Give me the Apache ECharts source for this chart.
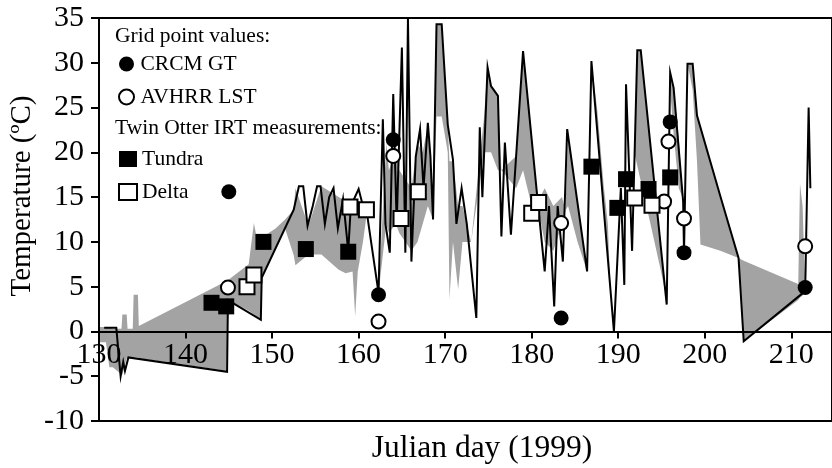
<!DOCTYPE html>
<html>
<head>
<meta charset="utf-8">
<script src="https://cdn.jsdelivr.net/npm/echarts@6/dist/echarts.min.js"></script>
<style>
  html, body { margin: 0; padding: 0; background: #fff; }
  #chart { width: 832px; height: 468px; }
</style>
</head>
<body>
<div id="chart"></div>
<script>
// Daily surface temperature trace (black line)
const lineDays = [130.6,132.0,132.5,132.8,133.0,133.4,144.8,144.9,148.7,148.8,152.5,153.1,153.6,154.1,154.7,155.2,155.6,156.1,156.6,157.1,157.6,158.2,158.8,159.1,160.0,160.5,160.9,162.3,162.8,163.1,163.6,164.0,164.4,165.0,165.4,165.7,166.1,166.6,167.1,167.5,168.0,168.3,168.6,169.0,169.6,170.3,170.9,171.3,171.9,172.5,173.6,174.0,174.3,174.9,175.3,176.1,176.5,176.9,177.6,179.0,180.7,181.5,182.0,182.6,183.0,183.6,184.1,186.4,186.9,189.5,190.3,190.7,190.9,191.6,192.2,192.6,195.6,196.0,196.4,197.5,197.6,198.0,198.6,199.1,201.8,203.9,204.5,211.6,212.0,212.2];
const lineTemps = [0.4,0.4,-5.0,-3.4,-4.4,-2.9,-4.5,3.5,1.3,6.0,13.6,16.2,16.2,11.8,14.0,16.2,16.2,12.0,15.0,16.0,11.5,14.8,9.0,14.0,15.9,14.0,13.6,4.3,23.7,12.0,8.8,26.5,12.0,31.7,8.8,35.0,7.8,19.5,22.6,16.0,23.3,19.5,12.5,34.3,34.3,23.1,19.2,12.0,16.0,12.0,1.5,22.8,15.0,29.5,27.4,26.3,10.6,21.1,10.8,31.3,14.5,6.7,14.0,2.8,14.0,7.8,22.6,6.7,30.2,0.0,16.0,5.2,27.6,9.0,31.4,31.4,3.0,28.9,27.2,14.5,8.8,29.9,29.9,24.1,15.1,8.2,-1.1,4.5,25.0,16.0];

// Shaded range: lower and upper edge per day
const bandDays = [130.0,130.8,131.2,131.6,132.6,132.7,133.2,133.3,133.9,134.0,134.5,134.6,144.7,145.0,147.3,147.9,148.4,148.7,148.8,150.4,151.5,152.5,152.7,154.2,155.7,157.7,158.5,159.3,159.6,159.9,160.5,161.0,162.3,163.2,163.5,164.3,164.7,166.1,166.8,167.4,168.0,168.6,169.0,169.6,170.3,170.5,170.9,171.5,172.0,173.0,174.5,174.9,175.3,176.1,176.5,178.2,179.0,180.0,180.7,181.5,182.5,183.5,183.9,184.2,185.3,186.3,186.9,187.6,188.3,188.8,189.1,191.85,192.2,192.6,193.7,194.9,195.5,196.0,196.4,197.0,197.4,197.5,198.0,198.6,199.1,199.5,201.8,203.9,204.5,210.8,211.0,211.3,211.6,212.2];
const bandLow  = [-1.2,-1.2,-4.0,-4.0,-4.8,-4.8,-3.0,-3.0,-2.9,-2.9,-2.9,-3.0,-4.4,3.5,2.3,1.9,1.5,1.3,6.0,9.3,11.5,8.5,7.4,8.6,8.6,6.9,6.5,6.7,1.7,6.7,10.0,13.6,4.3,12.0,11.0,12.0,11.0,9.0,10.0,12.0,14.0,12.5,24.0,24.0,20.0,3.6,10.0,4.7,10.0,10.0,20.0,20.0,20.0,18.0,18.0,16.0,18.0,14.0,14.0,10.0,9.0,12.0,13.5,14.0,10.0,7.0,30.2,22.1,14.0,8.1,4.6,20.0,18.5,16.8,12.1,6.9,4.0,27.0,22.0,16.0,15.0,14.5,29.9,27.0,19.0,9.7,9.0,8.2,-1.1,3.5,3.8,4.0,4.5,16.0];
const bandHigh = [0.5,0.5,0.5,0.3,0.3,1.9,1.9,0.3,0.3,4.1,4.1,0.6,5.6,5.8,7.5,12.1,9.5,9.5,10.5,11.5,12.5,13.6,16.0,11.8,16.2,15.0,14.5,14.5,14.0,14.5,14.0,13.6,4.3,21.0,18.0,20.0,18.0,16.0,21.0,20.0,23.0,14.0,34.3,34.3,23.0,19.0,19.0,14.0,14.0,10.0,24.0,29.5,27.4,26.3,18.0,19.6,31.3,22.0,14.5,16.0,14.0,15.0,13.5,21.9,14.3,7.4,30.2,24.5,16.5,12.0,4.6,20.0,31.4,31.4,21.0,9.6,4.0,28.9,27.2,21.4,15.6,14.5,29.9,29.9,24.1,22.9,15.1,8.2,7.9,5.3,16.5,14.0,5.0,16.0];

// Grid point values
const crcmDays  = [145.0,162.3,164.0,183.4,196.0,197.6,211.6];
const crcmTemps = [15.6,4.1,21.4,1.5,23.4,8.8,4.9];
const avhrrDays  = [144.9,162.3,164.0,183.4,195.3,195.8,197.6,211.6];
const avhrrTemps = [4.9,1.1,19.6,12.1,14.5,21.2,12.6,9.5];

// Twin Otter IRT measurements
const tundraDays  = [143.0,144.7,149.0,153.9,158.8,186.9,189.9,190.9,193.5,196.0];
const tundraTemps = [3.2,2.8,10.0,9.2,8.9,18.4,13.8,17.0,15.9,17.2];
const deltaDays  = [147.1,147.9,159.0,160.9,164.9,166.9,180.0,180.8,191.9,193.9];
const deltaTemps = [5.0,6.3,13.9,13.6,12.6,15.6,13.2,14.4,14.9,14.1];

const xTicks = [130,140,150,160,170,180,190,200,210];
const yTicks = [-10,-5,0,5,10,15,20,25,30,35];

const SERIF = '"Liberation Serif", "DejaVu Serif", serif';
const zip = (xs, ys) => xs.map((x, i) => [x, ys[i]]);

const chart = echarts.init(document.getElementById('chart'), null, { renderer: 'canvas' });

chart.setOption({
  animation: false,
  backgroundColor: '#fff',
  grid: {
    left: 99, right: -3, top: 18, bottom: 47,
    show: true, borderColor: '#000', borderWidth: 2, backgroundColor: 'transparent'
  },
  xAxis: {
    type: 'value',
    position: 'bottom',
    z: 2,
    min: xTicks[0], max: 214.7, interval: 10,
    axisLine: { onZero: false, lineStyle: { color: '#000', width: 2 } },
    axisTick: { inside: false, length: 7, lineStyle: { color: '#000', width: 2 } },
    axisLabel: {
      color: '#000', fontFamily: SERIF, fontSize: 30, margin: 9,
      showMaxLabel: false, hideOverlap: false,
      formatter: v => (xTicks.indexOf(v) >= 0 ? String(v) : '')
    },
    splitLine: { show: false }
  },
  yAxis: {
    type: 'value',
    z: 2,
    min: yTicks[0], max: yTicks[yTicks.length - 1], interval: 5,
    axisLine: { onZero: false, lineStyle: { color: '#000', width: 2 } },
    axisTick: { inside: false, length: 8, lineStyle: { color: '#000', width: 2 } },
    axisLabel: { color: '#000', fontFamily: SERIF, fontSize: 30, margin: 15 },
    splitLine: { show: false }
  },
  legend: [
    {
      orient: 'vertical', left: 113, top: 48, itemWidth: 18, itemHeight: 15, itemGap: 11,
      textStyle: { fontFamily: SERIF, fontSize: 21.5, color: '#000' },
      data: [
        { name: 'CRCM GT', icon: 'circle', itemStyle: { color: '#000' } },
        { name: 'AVHRR LST', icon: 'circle', itemStyle: { color: '#fff', borderColor: '#000', borderWidth: 2 } }
      ]
    },
    {
      orient: 'vertical', left: 113, top: 143, itemWidth: 18, itemHeight: 16, itemGap: 11,
      textStyle: { fontFamily: SERIF, fontSize: 21.5, color: '#000' },
      data: [
        { name: 'Tundra', icon: 'rect', itemStyle: { color: '#000' } },
        { name: 'Delta', icon: 'rect', itemStyle: { color: '#fff', borderColor: '#000', borderWidth: 2 } }
      ]
    }
  ],
  graphic: [
    { type: 'text', left: 115, top: 25, style: { text: 'Grid point values:', font: '21.5px ' + SERIF, fill: '#000' } },
    { type: 'text', left: 115, top: 117, style: { text: 'Twin Otter IRT measurements:', font: '21.5px ' + SERIF, fill: '#000' } },
    { type: 'text', x: 22, y: 196, rotation: Math.PI / 2,
      style: { text: 'Temperature (ºC)', font: '29px ' + SERIF, fill: '#000', align: 'center', verticalAlign: 'middle' } },
    { type: 'text', x: 482, y: 449,
      style: { text: 'Julian day (1999)', font: '31.5px ' + SERIF, fill: '#000', align: 'center', verticalAlign: 'middle' } }
  ],
  series: [
    {
      name: 'range',
      type: 'custom',
      clip: true,
      silent: true,
      z: 1,
      data: bandDays.map((d, i) => [d, bandLow[i], bandHigh[i]]),
      encode: { x: 0, y: [1, 2] },
      renderItem: function (params, api) {
        if (params.dataIndex !== 0) return null;
        const pts = [];
        for (let i = 0; i < bandDays.length; i++) pts.push(api.coord([bandDays[i], bandHigh[i]]));
        for (let i = bandDays.length - 1; i >= 0; i--) pts.push(api.coord([bandDays[i], bandLow[i]]));
        return { type: 'polygon', shape: { points: pts }, style: { fill: '#a3a3a3', stroke: null } };
      }
    },
    {
      name: 'trace',
      type: 'line',
      z: 3,
      data: zip(lineDays, lineTemps),
      symbol: 'none',
      lineStyle: { color: '#000', width: 2, join: 'miter' },
      silent: true
    },
    {
      name: 'CRCM GT', type: 'scatter', z: 4, symbol: 'circle', symbolSize: 15,
      itemStyle: { color: '#000', opacity: 1 }, data: zip(crcmDays, crcmTemps)
    },
    {
      name: 'AVHRR LST', type: 'scatter', z: 4, symbol: 'circle', symbolSize: 14,
      itemStyle: { color: '#fff', borderColor: '#000', borderWidth: 2, opacity: 1 }, data: zip(avhrrDays, avhrrTemps)
    },
    {
      name: 'Tundra', type: 'scatter', z: 4, symbol: 'rect', symbolSize: 16,
      itemStyle: { color: '#000', opacity: 1 }, data: zip(tundraDays, tundraTemps)
    },
    {
      name: 'Delta', type: 'scatter', z: 4, symbol: 'rect', symbolSize: 15,
      itemStyle: { color: '#fff', borderColor: '#000', borderWidth: 2, opacity: 1 }, data: zip(deltaDays, deltaTemps)
    }
  ]
});

// Put the day axis on the zero-degree line: shift it up from the bottom edge
// by the pixel distance between 0 and the lowest temperature on the y scale.
const pxZero = chart.convertToPixel({ yAxisIndex: 0 }, 0);
const pxBottom = chart.convertToPixel({ yAxisIndex: 0 }, yTicks[0]);
chart.setOption({ xAxis: { offset: pxZero - pxBottom } });
</script>
</body>
</html>
